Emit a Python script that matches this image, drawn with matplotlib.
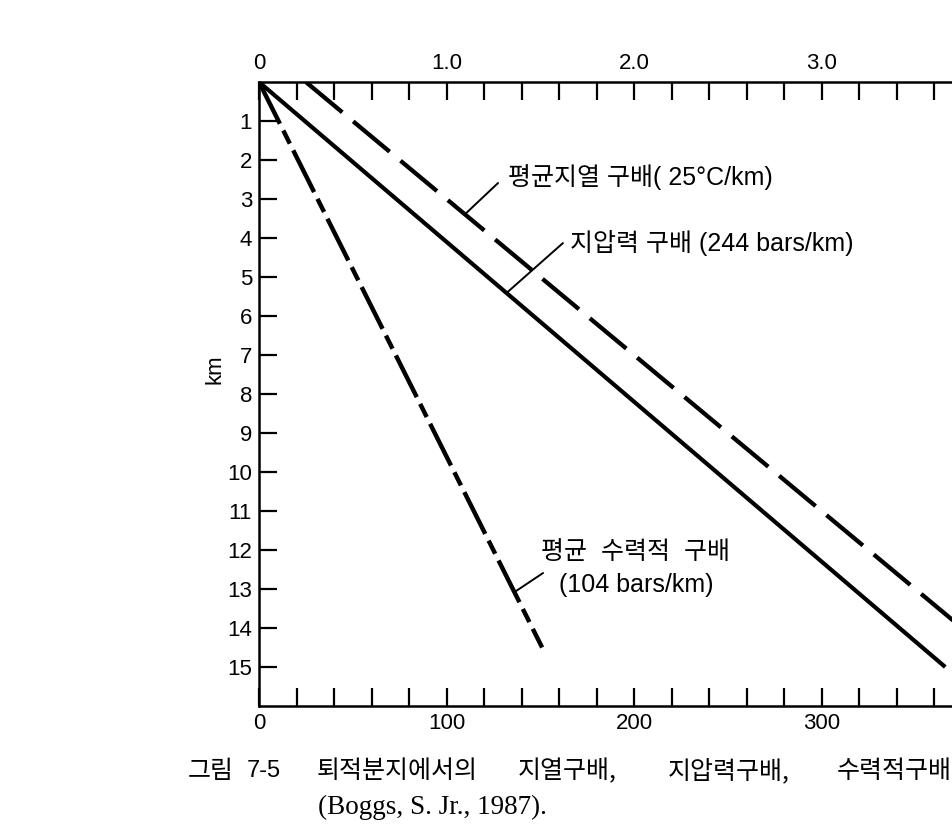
import numpy as np
import matplotlib
matplotlib.use('Agg')
import matplotlib.pyplot as plt

# depth (km) against pressure (kbar) or temperature (deg C)
litho_depth = [0, 15]
litho_kbar = [0, 3.66]      # 244 bars/km
hydro_depth = [0, 14.5]
hydro_kbar = [0, 1.51]      # 104 bars/km
geo_depth = [0, 15]
geo_temp = [25, 400]        # 25 C/km from a 25 C surface

temp_ticks = list(range(0, 401, 20))
temp_labeled = [0, 100, 200, 300]
kbar_ticks = [round(0.2 * i, 1) for i in range(21)]
kbar_labeled = {0: '0', 1.0: '1.0', 2.0: '2.0', 3.0: '3.0'}
depth_ticks = list(range(1, 16))

SANS = ['Liberation Sans', 'Noto Sans CJK KR']
plt.rcParams['font.family'] = SANS

W, H = 952, 835
fig = plt.figure(figsize=(W / 100, H / 100), dpi=100)
ax = fig.add_axes([259 / W, 129 / H, 750 / W, 624 / H])
ax.set_xlim(0, 400)
ax.set_ylim(16, 0)

ax2 = ax.twiny()
ax2.set_xlim(0, 4.0)

# bottom axis: temperature
ax.set_xticks(temp_ticks)
ax.set_xticklabels([str(t) if t in temp_labeled else '' for t in temp_ticks])
ax.set_yticks(depth_ticks)
ax.set_yticklabels([str(d) for d in depth_ticks])
ax.tick_params(axis='x', direction='in', length=13, width=1.6, labelsize=16,
               pad=5, top=False)
ax.tick_params(axis='y', direction='in', length=13, width=1.6, labelsize=16,
               pad=5, right=False)

# top axis: pressure
ax2.set_xticks(kbar_ticks)
ax2.set_xticklabels([kbar_labeled.get(p, '') for p in kbar_ticks])
ax2.tick_params(axis='x', direction='in', length=13, width=1.6, labelsize=16,
                pad=6, bottom=False, top=True)

for s in ['top', 'right']:
    ax.spines[s].set_visible(False)
for s in ['left', 'bottom']:
    ax.spines[s].set_linewidth(1.8)
for s in ['left', 'right', 'bottom']:
    ax2.spines[s].set_visible(False)
ax2.spines['top'].set_linewidth(1.8)

ax.set_ylabel('km', fontsize=16)
ax.yaxis.set_label_coords(-0.044, 0.54)

# gradients
ax.plot(geo_temp, geo_depth, color='black', lw=3.1,
        dashes=(11, 3.3), dash_capstyle='butt')
ax2.plot(litho_kbar, litho_depth, color='black', lw=3.0, solid_capstyle='butt')
ax2.plot(hydro_kbar, hydro_depth, color='black', lw=3.2,
         dashes=(10.5, 1.7, 3.3, 1.7), dash_capstyle='butt')

lead = dict(arrowstyle='-', lw=1.4, color='black', shrinkA=0, shrinkB=0)

# geothermal label
d_geo = 3.35
t_geo = np.interp(d_geo, geo_depth, geo_temp)
ax.annotate('', xy=(t_geo + 2, d_geo), xytext=(127.5, 2.59), arrowprops=lead)
ax.text(132.8, 2.44, '평균지열 구배( 25°C/km)', fontsize=18,
        ha='left', va='center')

# lithostatic label
d_lit = 5.41
p_lit = np.interp(d_lit, litho_depth, litho_kbar)
ax2.annotate('', xy=(p_lit, d_lit), xytext=(162.1, 4.13),
             textcoords=ax.transData, arrowprops=lead)
ax.text(165.9, 4.13, '지압력 구배 (244 bars/km)', fontsize=18,
        ha='left', va='center')

# hydrostatic label
d_hyd = 13.08
p_hyd = np.interp(d_hyd, hydro_depth, hydro_kbar)
ax2.annotate('', xy=(p_hyd, d_hyd), xytext=(151.5, 12.59),
             textcoords=ax.transData, arrowprops=lead)
ax.text(201, 12.05, '평균  수력적  구배', fontsize=18, ha='center', va='center')
ax.text(201, 12.9, '(104 bars/km)', fontsize=18, ha='center', va='center')

# caption
cap = [(188, '그림'), (317, '퇴적분지에서의'),
       (518, '지열구배,'), (668, '지압력구배,'), (837, '수력적구배')]
for x, s in cap:
    fig.text(x / W, 1 - 771 / H, s, fontsize=18, ha='left', va='center',
             family=['Noto Sans CJK KR'])
fig.text(247 / W, 1 - 771 / H, '7-5', fontsize=17, ha='left', va='center',
         family=['Liberation Sans'])
fig.text(318 / W, 1 - 807 / H, '(Boggs, S. Jr., 1987).', fontsize=19.5,
         ha='left', va='center', family=['Liberation Serif'])

fig.savefig('out.png', dpi=100)
